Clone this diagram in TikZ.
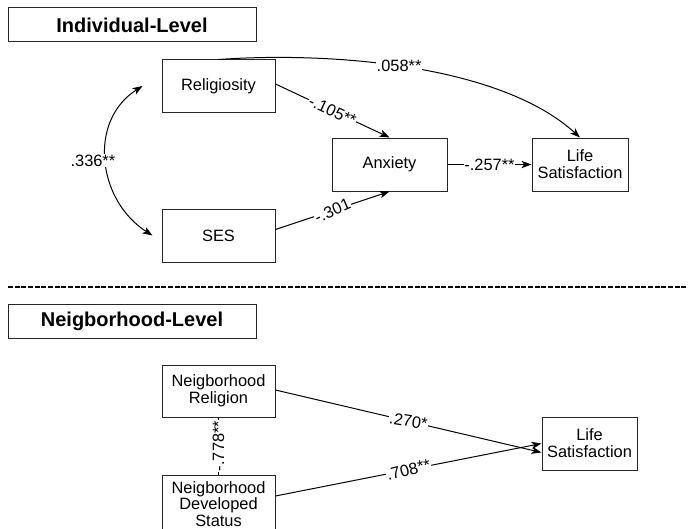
\documentclass[tikz,border=0pt]{standalone}
\usepackage{fontspec}
\setmainfont{Liberation Sans}
\usetikzlibrary{arrows.meta}

\tikzset{
  levelbox/.style={draw=black!85, line width=0.75pt, minimum width=186pt, minimum height=25.5pt, inner sep=0pt, font=\fontsize{15}{17}\selectfont\bfseries},
  varbox/.style={draw=black!85, line width=0.75pt, align=center, inner sep=0pt, font=\fontsize{12.3}{12.6}\selectfont},
  conn/.style={line width=0.75pt, -{Stealth[length=7.5pt,width=5.5pt,inset=2pt]}},
  coef/.style={fill=white, inner sep=0.5pt, font=\fontsize{12.3}{13}\selectfont},
}

\begin{document}
\begin{tikzpicture}[x=0.75pt,y=0.75pt,yscale=-1,xscale=1]
\useasboundingbox (0,0) rectangle (688,528);

%Level titles
\node (indiv) [levelbox] at (132,25) {Individual-Level};
\node (neigh) [levelbox] at (132,321.5) {Neigborhood-Level};

%Individual-level variables
\node (rel) [varbox, minimum width=84.75pt, minimum height=39pt] at (218.5,86) {Religiosity};
\node (ses) [varbox, minimum width=84.75pt, minimum height=39.75pt] at (218.5,235.5) {SES};
\node (anx) [varbox, minimum width=86.25pt, minimum height=39.75pt] at (389.5,164.5) {Anxiety};
\node (ls) [varbox, minimum width=72pt, minimum height=39.75pt] at (580,164.5) {Life\\Satisfaction};

%Covariance ends
\coordinate (relin) at ([xshift=-14.25pt]rel.west);
\coordinate (sesin) at ([xshift=-6.75pt]ses.west);

%Individual-level paths
\draw [conn, {Stealth[length=7.5pt,width=5.5pt,inset=2pt]}-{Stealth[length=7.5pt,width=5.5pt,inset=2pt]}] (relin) .. controls +(-55,35) and +(-55,-35) .. (sesin) node [coef, pos=0.5, xshift=-10pt] {.336**};
\draw [conn] (rel.north) .. controls +(111.5,-8) and +(-80,-73) .. (ls.north) node [coef, pos=0.47] {.058**};
\draw [conn] ([yshift=-1.5pt]rel.east) -- (anx.north) node [coef, midway, rotate=-25] {-.105**};
\draw [conn] ([yshift=-4.5pt]ses.east) -- (anx.south) node [coef, midway, rotate=24] {-.301};
\draw [conn] (anx.east) -- (ls.west) node [coef, midway] {-.257**};

%Level separator
\draw [line width=1.5pt, dash pattern=on 3.75pt off 1.25pt] (8,287) -- (688,287);

%Neighborhood-level variables
\node (nr) [varbox, minimum width=84.75pt, minimum height=39pt] at (218.5,391) {Neigborhood\\Religion};
\node (nds) [varbox, minimum width=84.75pt, minimum height=43.5pt] at (218.5,504) {Neigborhood\\Developed\\Status};
\node (ls2) [varbox, minimum width=71.25pt, minimum height=39.75pt] at (589.5,443.5) {Life\\Satisfaction};

%Neighborhood-level paths
\draw [line width=0.75pt] (nds.north) -- (nr.south) node [coef, midway, rotate=90] {-.778**};
\draw [conn] ([yshift=-0.75pt]nr.east) -- ([yshift=6.75pt]ls2.west) node [coef, midway, rotate=-9] {.270*};
\draw [conn] ([yshift=-6pt]nds.east) -- (ls2.west) node [coef, midway, rotate=14.5] {.708**};
\end{tikzpicture}
\end{document}
